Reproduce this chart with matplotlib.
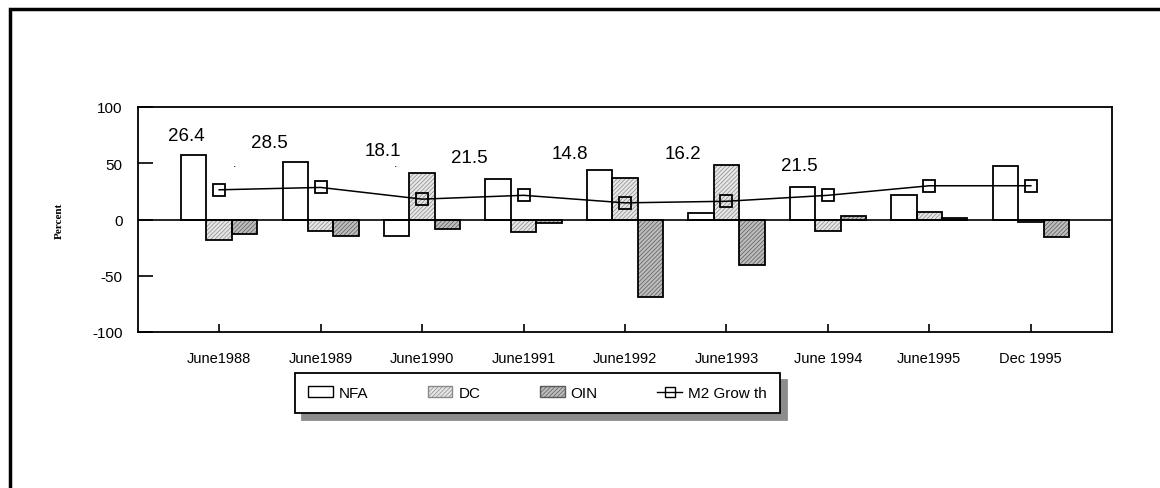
import matplotlib
matplotlib.use("Agg")
import matplotlib.pyplot as plt
import numpy as np
from matplotlib.patches import Rectangle, Patch
from matplotlib.lines import Line2D

plt.rcParams['font.family'] = ['Liberation Sans', 'DejaVu Sans']
plt.rcParams['hatch.linewidth'] = 0.5

categories = ["June1988", "June1989", "June1990", "June1991", "June1992",
              "June1993", "June 1994", "June1995", "Dec 1995"]
nfa = [57, 51.5, -15, 36, 44, 6, 28.5, 21.5, 47.5]
dc = [-18.5, -10, 41.5, -11.5, 36.5, 48.5, -10, 7, -2.5]
oin = [-12.5, -14.5, -8.5, -3, -68.5, -40, 3, 1.5, -15.5]
m2 = [26.4, 28.5, 18.1, 21.5, 14.8, 16.2, 21.5, 30, 30]

# value labels (misplaced in the original) : text, x-offset in categories, y
label_text = ["26.4", "28.5", "18.1", "21.5", "14.8", "16.2", "21.5"]
label_x = [-0.32, 0.49, 1.61, 2.47, 3.46, 4.57, 5.72]
label_y = [75, 68, 61.5, 55.5, 59, 59, 48]
dot_x = [0.15, 1.74]
dot_y = [50, 50]

W, H = 1160, 489
fig = plt.figure(figsize=(W / 100, H / 100), dpi=100)
ax = fig.add_axes([138 / W, 1 - 333 / H, (1112 - 138) / W, (333 - 108) / H])

x = np.arange(len(categories))
bw = 0.25
series = [(nfa, -bw, 'white', None, None),
          (dc, 0, '#e6e6e6', '#8a8a8a', '////////'),
          (oin, bw, '#bdbdbd', '#5a5a5a', '////////')]
for vals, off, fc, hc, hatch in series:
    if hatch:
        ax.bar(x + off, vals, bw, facecolor=fc, edgecolor=hc, hatch=hatch,
               linewidth=0, zorder=2)
    else:
        ax.bar(x + off, vals, bw, facecolor=fc, linewidth=0, zorder=2)
    ax.bar(x + off, vals, bw, facecolor='none', edgecolor='black',
           linewidth=1.3, zorder=3)

ax.plot(x, m2, color='black', linewidth=1.1, marker='s', markersize=8,
        markerfacecolor='none', markeredgecolor='black', markeredgewidth=1.3,
        zorder=4)

ax.axhline(0, color='black', linewidth=1.2, zorder=3.5)

for t, lx, ly in zip(label_text, label_x, label_y):
    ax.text(lx, ly, t, ha='center', va='center', fontsize=13.5, zorder=5)
for dx, dy in zip(dot_x, dot_y):
    ax.text(dx, dy, '.', ha='center', va='center', fontsize=9, zorder=5)

ax.set_xlim(-0.8, 8.8)
ax.set_ylim(-100, 100)
ax.set_yticks([-100, -50, 0, 50, 100])
ax.set_yticklabels(["-100", "-50", "0", "50", "100"], fontsize=11)
ax.set_xticks(x)
ax.set_xticklabels(categories, fontsize=10.5)
ax.tick_params(axis='y', direction='in', length=11, width=1.2, pad=11)
ax.tick_params(axis='x', direction='in', length=6, width=1.2, pad=14)
for s in ax.spines.values():
    s.set_linewidth(1.3)

ax.set_ylabel("Percent", fontsize=8, fontweight='bold',
              family='Liberation Serif', labelpad=20.5)

# legend
handles = [Patch(facecolor='white', edgecolor='black', linewidth=1),
           Patch(facecolor='#e6e6e6', edgecolor='#8a8a8a', hatch='////////', linewidth=1),
           Patch(facecolor='#bdbdbd', edgecolor='#5a5a5a', hatch='////////', linewidth=1),
           Line2D([], [], color='black', marker='s', markersize=7,
                  markerfacecolor='none', linewidth=1)]
leg = fig.legend(handles, ["NFA", "DC", "OIN", "M2 Grow th"], ncol=4,
                 loc='center', bbox_to_anchor=((295 + 780) / 2 / W, 1 - 394 / H),
                 frameon=True, fancybox=False, fontsize=11,
                 columnspacing=3.9, handlelength=1.6, handletextpad=0.4,
                 borderpad=0.85, edgecolor='black',
                 shadow={'ox': 5, 'oy': -5, 'color': '#8c8c8c', 'alpha': 1})
leg.get_frame().set_linewidth(1.3)

# outer frame (extends beyond right/bottom edge)
fig.add_artist(Rectangle((10 / W, -0.1), 1.2, (489 - 10) / H + 0.1,
                         transform=fig.transFigure, fill=False,
                         edgecolor='black', linewidth=2.5))

fig.savefig("out.png", dpi=100)
